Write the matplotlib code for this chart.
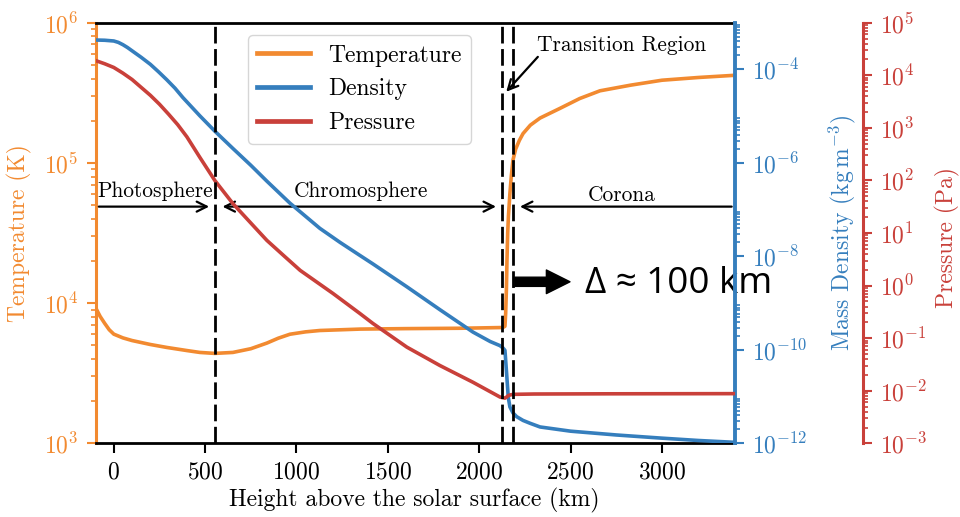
import matplotlib
matplotlib.use("Agg")
import matplotlib.pyplot as plt
from matplotlib.ticker import FixedLocator, LogFormatterSciNotation, NullFormatter

plt.rcParams["font.family"] = "serif"
plt.rcParams["font.serif"] = ["cmr10"]
plt.rcParams["mathtext.fontset"] = "cm"
plt.rcParams["axes.formatter.use_mathtext"] = True

ORANGE = "#f28a30"
BLUE = "#357ebd"
RED = "#c9403a"

# --- data ------------------------------------------------------------------
temp_km = [-100, -75, -50, -25, 0, 50, 100, 200, 290, 400, 471, 553, 652, 750,
           838, 900, 964, 1050, 1128, 1350, 1600, 1900, 2130, 2141, 2145, 2149,
           2152, 2156, 2160, 2168, 2176, 2185, 2200, 2220, 2240, 2280, 2333,
           2442, 2550, 2661, 2830, 3000, 3200, 3400]
temp_K = [9310, 8050, 7180, 6460, 6010, 5650, 5410, 5070, 4830, 4590, 4450, 4380,
          4450, 4730, 5190, 5620, 6000, 6240, 6380, 6530, 6580, 6620, 6700, 6840,
          8510, 12600, 20000, 31600, 41700, 60300, 81300, 105000, 126000, 145000,
          162000, 186000, 209000, 245000, 288000, 327000, 359000, 389000, 407000,
          422000]

dens_km = [-100, -50, 0, 25, 50, 75, 100, 150, 200, 245, 290, 335, 378, 471, 553,
           652, 750, 838, 964, 1128, 1238, 1347, 1418, 1604, 1785, 1966, 2060,
           2114, 2130, 2141, 2150, 2159, 2168, 2185, 2205, 2240, 2278, 2333, 2500,
           2750, 3000, 3200, 3400]
dens = [4.27e-4, 4.22e-4, 4.07e-4, 3.80e-4, 3.39e-4, 2.95e-4, 2.51e-4, 1.82e-4,
        1.29e-4, 8.91e-5, 6.03e-5, 3.98e-5, 2.51e-5, 1.02e-5, 4.79e-6, 2.04e-6,
        8.91e-7, 4.07e-7, 1.38e-7, 3.98e-8, 2.00e-8, 1.05e-8, 6.92e-9, 2.24e-9,
        7.24e-10, 2.40e-10, 1.51e-10, 1.23e-10, 1.10e-10, 9.77e-11, 3.16e-11,
        9.77e-12, 6.03e-12, 4.47e-12, 3.72e-12, 3.09e-12, 2.69e-12, 2.24e-12,
        1.82e-12, 1.51e-12, 1.29e-12, 1.15e-12, 1.05e-12]

pres_km = [-100, -50, 0, 50, 100, 150, 200, 250, 300, 350, 400, 471, 553, 652, 750,
           838, 930, 1020, 1200, 1347, 1418, 1604, 1785, 1966, 2114, 2141, 2150,
           2160, 2175, 2190, 2300, 2700, 3400]
pres = [1.91e4, 1.66e4, 1.41e4, 1.10e4, 8.32e3, 5.89e3, 4.17e3, 2.82e3, 1.82e3,
        1.15e3, 676, 275, 100, 36.3, 15.5, 7.24, 3.72, 1.95, 0.708, 0.295, 0.191,
        0.0676, 0.0302, 0.0145, 7.59e-3, 7.24e-3, 7.59e-3, 8.13e-3, 8.41e-3,
        8.55e-3, 8.67e-3, 8.75e-3, 8.81e-3]

boundaries_km = [555, 2125, 2187]
x_ticks = [0, 500, 1000, 1500, 2000, 2500, 3000]

fig = plt.figure(figsize=(9.6, 5.17), dpi=100)
ax = fig.add_axes([0.0995, 0.1425, 0.6661, 0.8135])
ax2 = ax.twinx()
ax3 = ax.twinx()

l1, = ax.plot(temp_km, temp_K, color=ORANGE, lw=2.6, label="Temperature")
l2, = ax2.plot(dens_km, dens, color=BLUE, lw=2.6, label="Density")
l3, = ax3.plot(pres_km, pres, color=RED, lw=2.6, label="Pressure")

for a in (ax, ax2, ax3):
    a.set_yscale("log")
ax.set_xlim(-100, 3400)
ax.set_ylim(1e3, 1e6)
ax2.set_ylim(1e-12, 1e-3)
ax3.set_ylim(1e-3, 1e5)
ax.set_xticks(x_ticks)

# ticks
ax.yaxis.set_major_locator(FixedLocator([1e3, 1e4, 1e5, 1e6]))
ax.yaxis.set_minor_locator(FixedLocator([k * 10.0 ** n for n in (3, 4, 5) for k in range(2, 10)]))
ax2.yaxis.set_major_locator(FixedLocator([1e-12, 1e-10, 1e-8, 1e-6, 1e-4]))
ax2.yaxis.set_minor_locator(FixedLocator([k * 10.0 ** n for n in (-12, -10, -8, -6, -4) for k in range(2, 10)]))
ax3.yaxis.set_major_locator(FixedLocator([10.0 ** n for n in range(-3, 6)]))
ax3.yaxis.set_minor_locator(FixedLocator([k * 10.0 ** n for n in range(-3, 5) for k in range(2, 10)]))
for a in (ax, ax2, ax3):
    a.yaxis.set_major_formatter(LogFormatterSciNotation())
    a.yaxis.set_minor_formatter(NullFormatter())

ax.tick_params(axis="x", colors="black", length=7, width=1.5, labelsize=17, pad=6)
ax.tick_params(axis="y", which="major", colors=ORANGE, length=6.5, width=1.5, labelsize=17, pad=6)
ax.tick_params(axis="y", which="minor", colors=ORANGE, length=3.6, width=1.2)
ax2.tick_params(axis="y", which="major", colors=BLUE, length=6.5, width=1.5, labelsize=17, pad=6)
ax2.tick_params(axis="y", which="minor", colors=BLUE, length=3.6, width=1.2)
ax3.tick_params(axis="y", which="major", colors=RED, length=6.5, width=1.5, labelsize=17, pad=6)
ax3.tick_params(axis="y", which="minor", colors=RED, length=3.6, width=1.2)

# spines
ax.spines["right"].set_visible(False)
ax.spines["left"].set_color(ORANGE)
ax.spines["left"].set_linewidth(2.2)
ax.spines["top"].set_linewidth(2)
ax.spines["bottom"].set_linewidth(2)
for s in ("left", "top", "bottom"):
    ax2.spines[s].set_visible(False)
    ax3.spines[s].set_visible(False)
ax2.spines["right"].set_color(BLUE)
ax2.spines["right"].set_linewidth(2.8)
ax3.spines["right"].set_position(("axes", 1.2))
ax3.spines["right"].set_color(RED)
ax3.spines["right"].set_linewidth(2.2)

# labels
ax.set_xlabel("Height above the solar surface (km)", fontsize=17)
ax.xaxis.set_label_coords(0.498, -0.105)
ax.set_ylabel("Temperature (K)", fontsize=17, color=ORANGE)
ax.yaxis.set_label_coords(-0.1, 0.5)
ax2.set_ylabel(r"Mass Density (kg$\,$m$^{-3}$)", fontsize=17, color=BLUE)
ax2.yaxis.set_label_coords(1.143, 0.5)
ax3.set_ylabel("Pressure (Pa)", fontsize=17, color=RED)
ax3.yaxis.set_label_coords(1.313, 0.49)

# region boundaries
for xb in boundaries_km:
    ax3.axvline(xb, color="black", lw=2, ls=(0, (6, 2)), zorder=5)

# region labels and arrows
arrow_y = 48800
label_y = 57400
arrow_kw = dict(arrowstyle="->", color="black", lw=1.6, mutation_scale=18,
                shrinkA=0, shrinkB=0)
ax.annotate("", xy=(522, arrow_y), xytext=(-82, arrow_y), arrowprops=arrow_kw)
ax.annotate("", xy=(2092, arrow_y), xytext=(595, arrow_y),
            arrowprops=dict(arrow_kw, arrowstyle="<->"))
ax.annotate("", xy=(2223, arrow_y), xytext=(3382, arrow_y), arrowprops=arrow_kw)
ax.text(228, label_y, "Photosphere", fontsize=15.4, ha="center", va="baseline")
ax.text(1355, label_y, "Chromosphere", fontsize=15.4, ha="center", va="baseline")
ax.text(2780, 53700, "Corona", fontsize=15.4, ha="center", va="baseline")
ax.text(2780, 631000, "Transition Region", fontsize=15.4, ha="center", va="baseline")
ax.annotate("", xy=(2148, 322000), xytext=(2321, 571000), arrowprops=arrow_kw)

# transition width callout
ax.annotate("", xy=(2497, 14200), xytext=(2195, 14200),
            arrowprops=dict(arrowstyle="simple,head_width=0.85,head_length=0.85,tail_width=0.33",
                            color="black", mutation_scale=20, shrinkA=0, shrinkB=0))
ax.text(2579, 13600, "\u0394 \u2248 100 km", fontsize=26.5, ha="left", va="center",
        family=["Open Sans", "DejaVu Sans"])

leg = ax3.legend(handles=[l1, l2, l3], loc="upper left", bbox_to_anchor=(0.2385, 0.971),
                 borderaxespad=0, fontsize=17, handlelength=2.24, handletextpad=0.76)
for h in leg.get_lines():
    h.set_linewidth(3.4)

fig.savefig("out.png", dpi=100)
